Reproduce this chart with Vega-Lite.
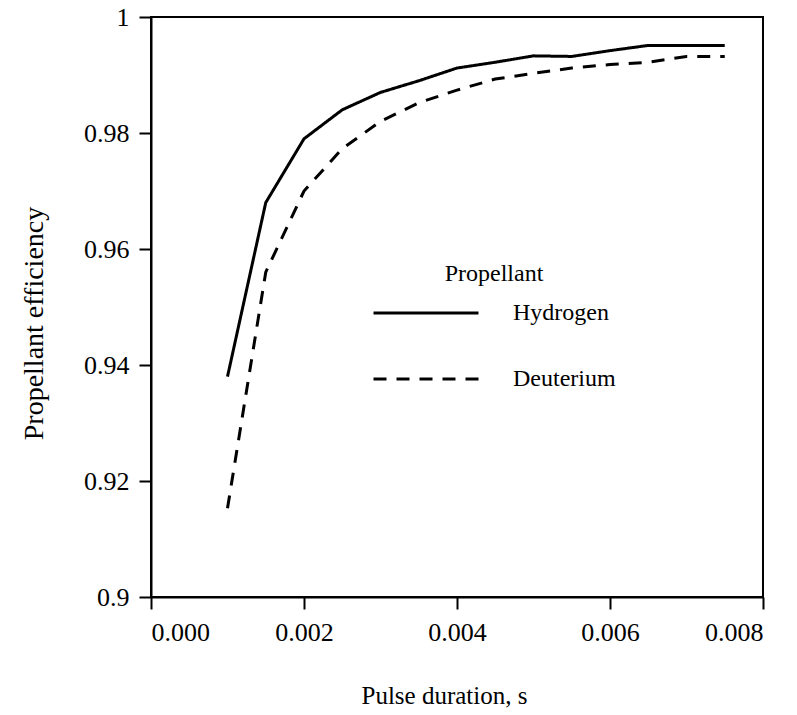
{
  "$schema": "https://vega.github.io/schema/vega-lite/v6.json",
  "width": 612,
  "height": 580,
  "autosize": {"type": "none"},
  "padding": {"left": 151, "top": 17, "right": 34, "bottom": 118},
  "background": "white",
  "config": {
    "font": "Liberation Serif",
    "view": {"stroke": "black", "strokeWidth": 2},
    "axis": {
      "domainColor": "black", "domainWidth": 2,
      "tickColor": "black", "tickWidth": 2, "tickSize": 12,
      "labelFont": "Liberation Serif", "labelFontSize": 26, "labelColor": "black",
      "titleFont": "Liberation Serif", "titleFontWeight": "normal", "titleColor": "black",
      "grid": false
    },
    "legend": {
      "labelFont": "Liberation Serif", "labelFontSize": 24, "labelColor": "black",
      "titleFont": "Liberation Serif", "titleFontSize": 24, "titleFontWeight": "normal", "titleColor": "black"
    }
  },
  "data": {
    "values": [
      {"t": 0.0010, "eff": 0.938, "Propellant": "Hydrogen"},
      {"t": 0.0015, "eff": 0.968, "Propellant": "Hydrogen"},
      {"t": 0.0020, "eff": 0.979, "Propellant": "Hydrogen"},
      {"t": 0.0025, "eff": 0.984, "Propellant": "Hydrogen"},
      {"t": 0.0030, "eff": 0.987, "Propellant": "Hydrogen"},
      {"t": 0.0035, "eff": 0.989, "Propellant": "Hydrogen"},
      {"t": 0.0040, "eff": 0.9912, "Propellant": "Hydrogen"},
      {"t": 0.0045, "eff": 0.9922, "Propellant": "Hydrogen"},
      {"t": 0.0050, "eff": 0.9933, "Propellant": "Hydrogen"},
      {"t": 0.0055, "eff": 0.9932, "Propellant": "Hydrogen"},
      {"t": 0.0060, "eff": 0.9942, "Propellant": "Hydrogen"},
      {"t": 0.0065, "eff": 0.9951, "Propellant": "Hydrogen"},
      {"t": 0.0070, "eff": 0.9951, "Propellant": "Hydrogen"},
      {"t": 0.0075, "eff": 0.9951, "Propellant": "Hydrogen"},
      {"t": 0.0010, "eff": 0.9153, "Propellant": "Deuterium"},
      {"t": 0.0015, "eff": 0.956, "Propellant": "Deuterium"},
      {"t": 0.0020, "eff": 0.970, "Propellant": "Deuterium"},
      {"t": 0.0025, "eff": 0.9773, "Propellant": "Deuterium"},
      {"t": 0.0030, "eff": 0.982, "Propellant": "Deuterium"},
      {"t": 0.0035, "eff": 0.9852, "Propellant": "Deuterium"},
      {"t": 0.0040, "eff": 0.9874, "Propellant": "Deuterium"},
      {"t": 0.0045, "eff": 0.9893, "Propellant": "Deuterium"},
      {"t": 0.0050, "eff": 0.9903, "Propellant": "Deuterium"},
      {"t": 0.0055, "eff": 0.9912, "Propellant": "Deuterium"},
      {"t": 0.0060, "eff": 0.9918, "Propellant": "Deuterium"},
      {"t": 0.0065, "eff": 0.9922, "Propellant": "Deuterium"},
      {"t": 0.0070, "eff": 0.9932, "Propellant": "Deuterium"},
      {"t": 0.0075, "eff": 0.9932, "Propellant": "Deuterium"}
    ]
  },
  "mark": {"type": "line", "color": "black", "strokeWidth": 3},
  "encoding": {
    "x": {
      "field": "t", "type": "quantitative",
      "scale": {"domain": [0, 0.008], "nice": false},
      "axis": {
        "values": [0, 0.002, 0.004, 0.006, 0.008], "format": ".3f", "labelPadding": 10,
        "title": "Pulse duration, s", "titleFontSize": 25,
        "titleX": 293, "titleY": 106, "titleAlign": "center", "titleBaseline": "alphabetic"
      }
    },
    "y": {
      "field": "eff", "type": "quantitative",
      "scale": {"domain": [0.9, 1], "nice": false, "zero": false},
      "axis": {
        "values": [0.9, 0.92, 0.94, 0.96, 0.98, 1], "format": "~g", "labelPadding": 10,
        "title": "Propellant efficiency", "titleFontSize": 28,
        "titleX": -109, "titleY": 306, "titleAngle": 270, "titleAlign": "center", "titleBaseline": "alphabetic"
      }
    },
    "strokeDash": {
      "field": "Propellant", "type": "nominal",
      "scale": {"domain": ["Hydrogen", "Deuterium"], "range": [[1, 0], [13, 10]]},
      "legend": {
        "orient": "none", "legendX": 221, "legendY": 245,
        "symbolType": "stroke", "symbolSize": 11025, "symbolStrokeWidth": 3, "symbolStrokeColor": "black",
        "labelOffset": 33, "rowPadding": -48, "titlePadding": -27,
        "titleAnchor": "middle", "titleAlign": "center"
      }
    }
  }
}
